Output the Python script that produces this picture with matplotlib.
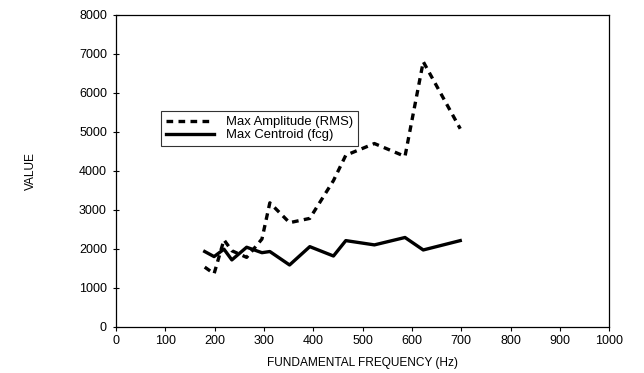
import matplotlib
matplotlib.use("Agg")
import matplotlib.pyplot as plt

# Fundamental frequency of each measurement (Hz)
freq_hz = [180, 199, 219, 235, 265, 296, 312, 352, 393, 441, 466, 524, 586, 623, 698]
# Maximum amplitude (RMS)
max_amplitude = [1530, 1360, 2230, 1950, 1780, 2250, 3180, 2670, 2780, 3750, 4400, 4700, 4370, 6800, 5080]
# Maximum spectral centroid (fcg)
max_centroid = [1930, 1800, 1990, 1715, 2040, 1900, 1930, 1585, 2055, 1815, 2210, 2100, 2290, 1970, 2210]

x_ticks = list(range(0, 1001, 100))
y_ticks = list(range(0, 8001, 1000))

plt.rcParams['font.family'] = ['Liberation Sans', 'DejaVu Sans']

fig = plt.figure(figsize=(6.44, 3.73), dpi=100)
ax = fig.add_axes([0.180, 0.124, 0.766, 0.836])

ax.plot(freq_hz, max_amplitude, color='black', linewidth=2.4,
        linestyle=(0, (2.0, 1.6)), label='Max Amplitude (RMS)')
ax.plot(freq_hz, max_centroid, color='black', linewidth=2.4,
        linestyle='-', label='Max Centroid (fcg)')

ax.set_xlim(0, 1000)
ax.set_ylim(0, 8000)
ax.set_xticks(x_ticks)
ax.set_yticks(y_ticks)
ax.tick_params(axis='x', direction='out', length=3, width=0.8, labelsize=9, pad=3)
ax.tick_params(axis='y', direction='inout', length=5, width=0.8, labelsize=9, pad=4)

for s in ax.spines.values():
    s.set_linewidth(0.9)
    s.set_color('black')

ax.set_xlabel('FUNDAMENTAL FREQUENCY (Hz)', fontsize=8.6, labelpad=7)
ax.set_ylabel('VALUE', fontsize=8.6, labelpad=30)

leg = ax.legend(loc='upper left', bbox_to_anchor=(0.091, 0.692), borderaxespad=0,
                frameon=True, fancybox=False, edgecolor='black', fontsize=9.4,
                handlelength=3.7, handletextpad=0.9, borderpad=0.4,
                labelspacing=0.05)
leg.get_frame().set_linewidth(0.8)

fig.savefig('out.png', dpi=100)
